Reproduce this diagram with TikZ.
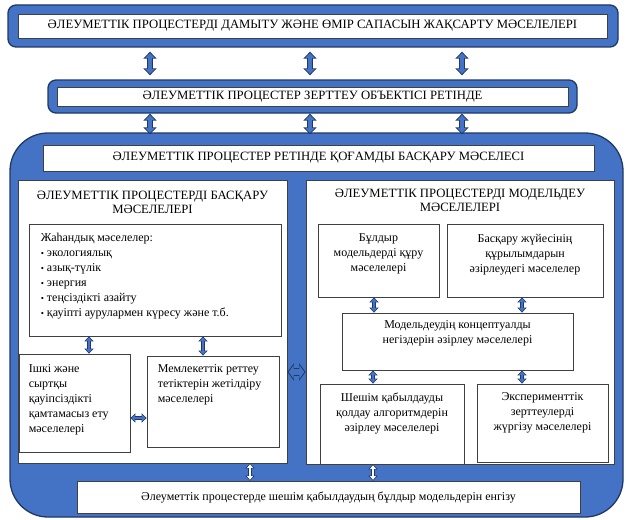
\documentclass[tikz,border=0pt]{standalone}
\usepackage{fontspec}
\setmainfont{Liberation Serif}
\usetikzlibrary{arrows.meta}
\usetikzlibrary{positioning}
\definecolor{boxblue}{HTML}{4472C4}
\definecolor{edgeblue}{HTML}{1F3864}

\begin{document}
\begin{tikzpicture}[x=1pt,y=-1pt]
		\tikzset{band/.style = {shape=rectangle,draw=edgeblue,fill=boxblue,line width=1.3pt,
				rounded corners=8pt, inner sep = 0pt}}
		\tikzset{wbox/.style = {shape=rectangle,draw=black!75,fill=white,line width=0.8pt,
				inner sep = 0pt}}
		\tikzset{txt/.style = {inner sep = 0pt, align=center, font=\fontsize{12}{15}\selectfont}}
		\tikzset{ltxt/.style = {txt, align=left}}
		\tikzset{captxt/.style = {txt, font=\fontsize{12.7}{14.5}\selectfont}}
		\tikzset{bigarrow/.style = {draw=edgeblue, line width=6pt,
				{Triangle[length=7pt,width=13pt]}-{Triangle[length=7pt,width=13pt]},
				postaction={draw=boxblue, line width=3.8pt, shorten >=1.3pt, shorten <=1.3pt,
					{Triangle[length=5pt,width=9pt]}-{Triangle[length=5pt,width=9pt]}}}}
		\tikzset{smallarrow/.style = {draw=edgeblue, line width=4pt,
				{Triangle[length=5pt,width=9pt]}-{Triangle[length=5pt,width=9pt]},
				postaction={draw=boxblue, line width=2.2pt, shorten >=1pt, shorten <=1pt,
					{Triangle[length=3.4pt,width=6pt]}-{Triangle[length=3.4pt,width=6pt]}}}}
		\tikzset{thinarrow/.style = {smallarrow, line width=3.6pt,
				postaction={draw=white, line width=2pt, shorten >=1pt, shorten <=1pt,
					{Triangle[length=3.4pt,width=5.6pt]}-{Triangle[length=3.4pt,width=5.6pt]}}}}
		\tikzset{hollowarrow/.style = {draw=edgeblue, line width=8pt,
				{Triangle[length=6.5pt,width=17pt]}-{Triangle[length=6.5pt,width=17pt]},
				postaction={draw=boxblue, line width=6.2pt, shorten >=1.3pt, shorten <=1.3pt,
					{Triangle[length=5pt,width=13.6pt]}-{Triangle[length=5pt,width=13.6pt]}}}}
		
		\useasboundingbox (0,0) rectangle (626,519);
		
		% bands
		\node[band, minimum width=610pt, minimum height=42pt] (topband) at (313,26) {};
		\node[wbox, minimum width=589pt, minimum height=24pt] (topbox) at (312.5,26) {};
		\node[captxt] (toptext) at (topbox.center) {ӘЛЕУМЕТТІК ПРОЦЕСТЕРДІ ДАМЫТУ ЖӘНЕ ӨМІР САПАСЫН ЖАҚСАРТУ МӘСЕЛЕЛЕРІ};
		
		\node[band, minimum width=529pt, minimum height=33pt] (midband) at (312.5,96.5) {};
		\node[wbox, minimum width=511pt, minimum height=19pt] (midbox) at (312.5,96.5) {};
		\node[captxt] (midtext) at (midbox.center) {ӘЛЕУМЕТТІК ПРОЦЕСТЕР ЗЕРТТЕУ ОБЪЕКТІСІ РЕТІНДЕ};
		
		\node[band, rounded corners=38pt, minimum width=613pt, minimum height=384pt] (frame) at (316.5,325) {};
		\node[wbox, minimum width=551pt, minimum height=26pt] (title) at (318.5,158) {};
		\node[captxt] (titletext) at (title.center) {ӘЛЕУМЕТТІК ПРОЦЕСТЕР РЕТІНДЕ ҚОҒАМДЫ БАСҚАРУ МӘСЕЛЕСІ};
		
		% left panel
		\node[wbox, minimum width=269pt, minimum height=283pt] (lpanel) at (152.5,321.5) {};
		\node[captxt, below=11pt of lpanel.north] (ltitle) {ӘЛЕУМЕТТІК ПРОЦЕСТЕРДІ БАСҚАРУ\\МӘСЕЛЕЛЕРІ};
		\node[wbox, minimum width=252pt, minimum height=112pt] (global) at (155,280) {};
		\node[ltxt, anchor=north west] (globaltext) at ([xshift=12pt,yshift=-9pt]global.north west)
			{Жаһандық мәселелер:\\
			{\small\textbullet} экологиялық\\
			{\small\textbullet} азық-түлік\\
			{\small\textbullet} энергия\\
			{\small\textbullet} теңсіздікті азайту\\
			{\small\textbullet} қауіпті аурулармен күресу және т.б.};
		\node[wbox, minimum width=111pt, minimum height=98pt] (ishki) at (74.5,403) {};
		\node[ltxt, anchor=north west] (ishkitext) at ([xshift=10pt,yshift=-11pt]ishki.north west)
			{Ішкі және\\сыртқы\\қауіпсіздікті\\қамтамасыз ету\\мәселелері};
		\node[wbox, minimum width=132pt, minimum height=91pt] (memleket) at (213,401.5) {};
		\node[ltxt, anchor=north west] (memlekettext) at ([xshift=11pt,yshift=-9pt]memleket.north west)
			{Мемлекеттік реттеу\\тетіктерін жетілдіру\\мәселелері};
		
		% right panel
		\node[wbox, minimum width=308pt, minimum height=284pt] (rpanel) at (460,322) {};
		\node[captxt, below=9pt of rpanel.north] (rtitle) {ӘЛЕУМЕТТІК ПРОЦЕСТЕРДІ МОДЕЛЬДЕУ\\МӘСЕЛЕЛЕРІ};
		\node[wbox, minimum width=121pt, minimum height=73pt] (buldyr) at (378.5,260.5) {};
		\node[txt, below=10pt of buldyr.north] (buldyrtext) {Бұлдыр\\модельдерді құру\\мәселелері};
		\node[wbox, minimum width=156pt, minimum height=73pt] (baskaru) at (525,260.5) {};
		\node[txt, below=10pt of baskaru.north] (baskarutext) {Басқару жүйесінің\\құрылымдарын\\әзірлеудегі мәселелер};
		\node[wbox, minimum width=231pt, minimum height=57pt] (model) at (457.5,341.5) {};
		\node[txt, below=8pt of model.north] (modeltext) {Модельдеудің концептуалды\\негіздерін әзірлеу мәселелері};
		\node[wbox, minimum width=144pt, minimum height=80pt] (sheshim) at (392,424) {};
		\node[txt, below=9pt of sheshim.north] (sheshimtext) {Шешім қабылдауды\\қолдау алгоритмдерін\\әзірлеу мәселелері};
		\node[wbox, minimum width=131pt, minimum height=78pt] (experiment) at (542.5,423) {};
		\node[txt, below=9pt of experiment.north] (experimenttext) {Эксперименттік\\зерттеулерді\\жүргізу мәселелері};
		
		% bottom
		\node[wbox, minimum width=503pt, minimum height=32pt] (bottom) at (328.5,497) {};
		\node[txt] (bottomtext) at (bottom.center) {Әлеуметтік процестерде шешім қабылдаудың бұлдыр модельдерін енгізу};
		
		%arrows
		\foreach \x in {150,310,462}{
			\draw[bigarrow] ([yshift=-4pt]topband.south -| \x,0) -- ([yshift=4pt]midband.north -| \x,0);
			\draw[bigarrow] (midband.south -| \x,0) -- ([yshift=-2pt]frame.north -| \x,0);
		}
		\draw[smallarrow] (global.south -| 89,0) -- (ishki.north -| 89,0);
		\draw[smallarrow] (global.south -| 203,0) -- (memleket.north -| 203,0);
		\draw[smallarrow] (ishki.east |- 0,418) -- (memleket.west |- 0,418);
		\draw[hollowarrow] (lpanel.east |- 0,372) -- (rpanel.west |- 0,372);
		\draw[smallarrow] (buldyr.south -| 374,0) -- (model.north -| 374,0);
		\draw[smallarrow] (baskaru.south -| 522,0) -- (model.north -| 522,0);
		\draw[smallarrow] (model.south -| 373,0) -- (sheshim.north -| 373,0);
		\draw[smallarrow] (model.south -| 522,0) -- (experiment.north -| 522,0);
		\draw[thinarrow] (lpanel.south -| 250,0) -- (bottom.north -| 250,0);
		\draw[thinarrow] (sheshim.south -| 373,0) -- (bottom.north -| 373,0);
		
\end{tikzpicture}
\end{document}
